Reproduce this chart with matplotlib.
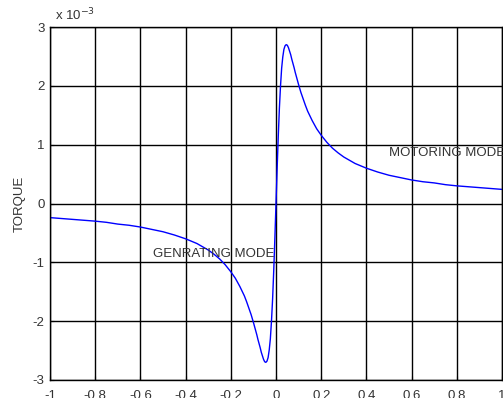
import matplotlib
matplotlib.use("Agg")
import matplotlib.pyplot as plt

# slip values
slip_pos = [0.0, 0.005, 0.01, 0.015, 0.02, 0.025, 0.03, 0.035, 0.04, 0.045, 0.05, 0.055, 0.06, 0.065,
            0.07, 0.075, 0.08, 0.085, 0.09, 0.095, 0.1, 0.11, 0.12, 0.13, 0.14, 0.15, 0.16, 0.18,
            0.2, 0.225, 0.25, 0.275, 0.3, 0.35, 0.4, 0.45, 0.5, 0.55, 0.6, 0.65, 0.7, 0.75, 0.8,
            0.85, 0.9, 0.95, 1.0]
# torque (x 1e-3) for positive slip
torque_pos = [0.0, 0.59, 1.14, 1.62, 2.00, 2.30, 2.49, 2.62, 2.68, 2.70, 2.69, 2.65, 2.59, 2.53,
              2.45, 2.38, 2.31, 2.23, 2.16, 2.09, 2.02, 1.89, 1.78, 1.67, 1.57, 1.49, 1.41, 1.27,
              1.16, 1.04, 0.94, 0.86, 0.79, 0.68, 0.60, 0.535, 0.48, 0.44, 0.40, 0.37, 0.35, 0.32, 0.30,
              0.285, 0.27, 0.255, 0.24]

slip = [-s for s in slip_pos[::-1]] + slip_pos[1:]
torque = [-t for t in torque_pos[::-1]] + torque_pos[1:]

xticks = [-1, -0.8, -0.6, -0.4, -0.2, 0, 0.2, 0.4, 0.6, 0.8, 1]
xticklabels = ["-1", "-0.8", "-0.6", "-0.4", "-0.2", "0", "0.2", "0.4", "0.6", "0.8", "1"]
yticks = [-3, -2, -1, 0, 1, 2, 3]
yticklabels = ["-3", "-2", "-1", "0", "1", "2", "3"]

plt.rcParams['font.family'] = ['Liberation Sans', 'DejaVu Sans']

fig = plt.figure(figsize=(5.03, 3.98), dpi=100)
ax = fig.add_axes([50/503, 18/398, 452/503, 353/398])
ax.plot(slip, torque, color=(0, 0, 1), linewidth=1.0)
ax.set_xlim(-1, 1)
ax.set_ylim(-3, 3)
ax.set_xticks(xticks)
ax.set_xticklabels(xticklabels)
ax.set_yticks(yticks)
ax.set_yticklabels(yticklabels)
ax.grid(True, color='black', linewidth=1.0, linestyle='-')
ax.tick_params(direction='in', length=3, labelsize=9.5, colors='black', labelcolor='#333333')
ax.tick_params(axis='x', pad=7)
ax.tick_params(axis='y', pad=4)
for sp in ax.spines.values():
    sp.set_color('black')
    sp.set_linewidth(1.0)
ax.set_ylabel("TORQUE", fontsize=9.5, labelpad=5, color='#333333')
ax.text(0.5, 0.85, "MOTORING MODE", fontsize=9.5, color='#333333', va='center', ha='left')
ax.text(-0.545, -0.85, "GENRATING MODE", fontsize=9.5, color='#333333', va='center', ha='left')
fig.text(55/503, 1 - 15/398, r"x 10$^{-3}$", fontsize=9.5, va='center', ha='left', color='#333333')

fig.savefig("out.png", dpi=100)
